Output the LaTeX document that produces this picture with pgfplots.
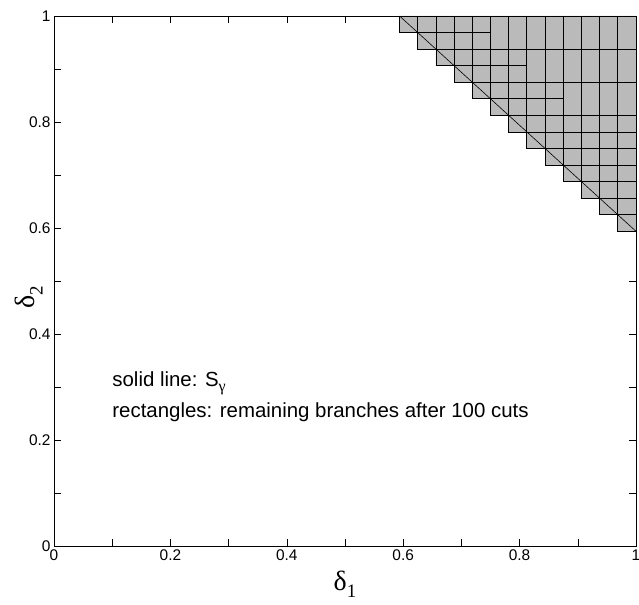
\documentclass[border=0pt]{standalone}
\usepackage{fontspec}
\setmainfont{Liberation Sans}
\newfontfamily\symf{Liberation Serif}
\usepackage{pgfplots}
\pgfplotsset{compat=1.18}
\begin{document}
\begin{tikzpicture}
\path[use as bounding box] (-54bp,-59bp) rectangle (585bp,546bp);
\begin{axis}[
  at={(0,0)}, anchor=south west,
  scale only axis, width=582bp, height=530bp,
  xmin=0, xmax=1, ymin=0, ymax=1,
  xtick={0,0.2,0.4,0.6,0.8,1}, ytick={0,0.2,0.4,0.6,0.8,1},
  minor xtick={0.1,0.3,0.5,0.7,0.9}, minor ytick={0.1,0.3,0.5,0.7,0.9},
  tick align=inside, tick pos=both,
  major tick length=7bp, minor tick length=7bp,
  axis line style={line width=0.8bp},
  every tick/.style={black, line width=0.6bp},
  /pgf/number format/assume math mode=true,
  tick label style={font=\fontsize{15.5}{18}\selectfont},
  xlabel={\symf\fontsize{28}{30}\selectfont δ\raisebox{-0.28em}{\fontsize{19}{20}\selectfont 1}},
  ylabel={\symf\fontsize{28}{30}\selectfont δ\raisebox{-0.28em}{\fontsize{19}{20}\selectfont 2}},
  xlabel style={at={(axis description cs:0.5,0)}, anchor=north, yshift=-21bp},
  ylabel style={at={(axis description cs:-0.043,0.47)}, anchor=center},
  clip=false,
]
% staircase of remaining branches
\addplot[fill=black!27, draw=black, line width=0.8bp] coordinates {
 (0.59375,1) (1,1) (1,0.59375) (0.96875,0.59375) (0.96875,0.625) (0.9375,0.625)
 (0.9375,0.65625) (0.90625,0.65625) (0.90625,0.6875) (0.875,0.6875) (0.875,0.71875)
 (0.84375,0.71875) (0.84375,0.75) (0.8125,0.75) (0.8125,0.78125) (0.78125,0.78125)
 (0.78125,0.8125) (0.75,0.8125) (0.75,0.84375) (0.71875,0.84375) (0.71875,0.875)
 (0.6875,0.875) (0.6875,0.90625) (0.65625,0.90625) (0.65625,0.9375) (0.625,0.9375)
 (0.625,0.96875) (0.59375,0.96875)} -- cycle;
% vertical cuts
\addplot[black, line width=0.8bp, unbounded coords=jump] coordinates {
 (0.625,0.9375) (0.625,1) (0.625,nan)
 (0.65625,0.90625) (0.65625,1) (0.65625,nan)
 (0.6875,0.875) (0.6875,1) (0.6875,nan)
 (0.71875,0.84375) (0.71875,1) (0.71875,nan)
 (0.75,0.8125) (0.75,1) (0.75,nan)
 (0.78125,0.78125) (0.78125,1) (0.78125,nan)
 (0.8125,0.75) (0.8125,1) (0.8125,nan)
 (0.84375,0.71875) (0.84375,1) (0.84375,nan)
 (0.875,0.6875) (0.875,1) (0.875,nan)
 (0.90625,0.65625) (0.90625,1) (0.90625,nan)
 (0.9375,0.625) (0.9375,1) (0.9375,nan)
 (0.96875,0.59375) (0.96875,1)};
% horizontal cuts
\addplot[black, line width=0.8bp, unbounded coords=jump] coordinates {
 (0.59375,0.96875) (0.75,0.96875) (nan,0.96875)
 (0.625,0.9375) (1,0.9375) (nan,0.9375)
 (0.65625,0.90625) (0.8125,0.90625) (nan,0.90625)
 (0.6875,0.875) (1,0.875) (nan,0.875)
 (0.71875,0.84375) (0.875,0.84375) (nan,0.84375)
 (0.75,0.8125) (1,0.8125) (nan,0.8125)
 (0.78125,0.78125) (1,0.78125) (nan,0.78125)
 (0.8125,0.75) (1,0.75) (nan,0.75)
 (0.84375,0.71875) (1,0.71875) (nan,0.71875)
 (0.875,0.6875) (1,0.6875) (nan,0.6875)
 (0.90625,0.65625) (1,0.65625) (nan,0.65625)
 (0.9375,0.625) (1,0.625)};
% S_gamma
\addplot[black, line width=0.6bp] coordinates {(0.59375,1) (1,0.59375)};
\node[anchor=west, font=\fontsize{20.5}{24}\selectfont, inner sep=0pt] at (axis cs:0.1,0.3075)
  {solid line: S\raisebox{-0.25em}{\symf\fontsize{16}{17}\selectfont γ}};
\node[anchor=west, font=\fontsize{20.5}{24}\selectfont, inner sep=0pt] at (axis cs:0.1,0.253)
  {rectangles: remaining branches after 100 cuts};
\end{axis}
\end{tikzpicture}
\end{document}
